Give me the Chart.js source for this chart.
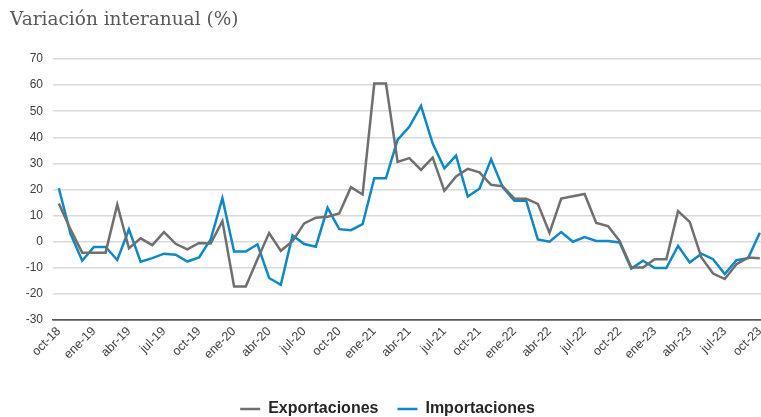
<!DOCTYPE html>
<html>
<head>
<meta charset="utf-8">
<script src="https://cdn.jsdelivr.net/npm/chart.js@4.4.1/dist/chart.umd.min.js"></script>
<style>
  html, body { margin: 0; padding: 0; background: #fff; overflow: hidden; }
  #wrap { position: absolute; left: 0; top: 0; width: 775px; height: 417px; }
  #title {
    position: absolute; left: 10px; top: 8px;
    font-family: 'DejaVu Serif', serif; font-size: 18.5px; color: #595959;
    white-space: nowrap;
  }
</style>
</head>
<body>
<div id="wrap"><canvas id="chart"></canvas></div>
<div id="title">Variación interanual (%)</div>
<script>
// months oct-18 .. oct-23
const months = [
  'oct-18','nov-18','dic-18','ene-19','feb-19','mar-19','abr-19','may-19','jun-19','jul-19','ago-19','sep-19',
  'oct-19','nov-19','dic-19','ene-20','feb-20','mar-20','abr-20','may-20','jun-20','jul-20','ago-20','sep-20',
  'oct-20','nov-20','dic-20','ene-21','feb-21','mar-21','abr-21','may-21','jun-21','jul-21','ago-21','sep-21',
  'oct-21','nov-21','dic-21','ene-22','feb-22','mar-22','abr-22','may-22','jun-22','jul-22','ago-22','sep-22',
  'oct-22','nov-22','dic-22','ene-23','feb-23','mar-23','abr-23','may-23','jun-23','jul-23','ago-23','sep-23',
  'oct-23'
];

const exportaciones = [
  14.6, 4.7, -4.2, -4.2, -4.2, 14.2, -2.5, 1.3, -1.3, 3.7, -0.8, -2.9,
  -0.5, -0.7, 7.9, -17.2, -17.2, -6.7, 3.3, -3.5, 0.2, 7.0, 9.2, 9.6,
  10.8, 20.9, 18.1, 60.6, 60.6, 30.6, 32.0, 27.5, 32.2, 19.5, 25.0, 27.9,
  26.6, 21.8, 21.2, 16.5, 16.5, 14.5, 3.4, 16.5, 17.4, 18.3, 7.2, 6.0,
  0.3, -9.9, -9.9, -6.7, -6.7, 11.7, 7.6, -6.0, -12.2, -14.3, -8.6, -6.1,
  -6.3
];

const importaciones = [
  20.5, 3.0, -7.3, -2.0, -2.0, -7.0, 4.7, -7.7, -6.3, -4.6, -5.0, -7.6,
  -6.0, 0.9, 16.7, -3.8, -3.8, -1.0, -13.9, -16.5, 2.4, -0.9, -1.9, 13.0,
  4.8, 4.4, 6.7, 24.3, 24.3, 39.1, 44.0, 52.0, 37.6, 28.1, 33.0, 17.3,
  20.3, 31.6, 20.8, 15.7, 15.7, 0.9, 0.0, 3.7, 0.0, 1.8, 0.3, 0.3,
  -0.3, -10.3, -7.3, -10.1, -10.1, -1.6, -8.0, -4.6, -6.7, -12.4, -7.1, -6.3,
  3.4
];

const yMin = -30, yMax = 70, yStep = 10;

const toPoints = arr => arr.map((v, i) => ({ x: i, y: v }));

const ctx = document.getElementById('chart').getContext('2d');
new Chart(ctx, {
  type: 'line',
  data: {
    datasets: [
      {
        label: 'Exportaciones',
        data: toPoints(exportaciones),
        borderColor: '#6f6f6f',
        backgroundColor: '#6f6f6f',
        borderWidth: 2.5,
        pointRadius: 0,
        tension: 0,
      },
      {
        label: 'Importaciones',
        data: toPoints(importaciones),
        borderColor: '#0e88c6',
        backgroundColor: '#0e88c6',
        borderWidth: 2.5,
        pointRadius: 0,
        tension: 0,
      },
    ],
  },
  options: {
    responsive: true,
    maintainAspectRatio: false,
    animation: false,
    events: [],
    layout: { padding: { top: 59, left: 0, right: 0, bottom: -10 } },
    plugins: {
      tooltip: { enabled: false },
      legend: {
        position: 'bottom',
        labels: {
          usePointStyle: true,
          pointStyle: 'line',
          pointStyleWidth: 20,
          padding: 19,
          color: '#262626',
          font: { family: "'Liberation Sans', Arial, sans-serif", size: 16, weight: 'bold' },
        },
      },
    },
    scales: {
      x: {
        type: 'linear',
        min: -0.5,
        max: 61.3,
        grid: { display: false },
        border: { display: true, color: '#595959', width: 1.5 },
        ticks: {
          stepSize: 3,
          includeBounds: false,
          autoSkip: false,
          minRotation: 45,
          maxRotation: 45,
          padding: -4,
          color: '#404040',
          font: { family: "'Liberation Sans', Arial, sans-serif", size: 12.5 },
          callback: v => months[v] || '',
        },
        afterFit: s => { s.height = 62; },
      },
      y: {
        min: yMin,
        max: yMax,
        border: { display: false },
        grid: {
          drawTicks: false,
          lineWidth: 1.5,
          color: c => c.tick.value === yMin ? '#595959' : '#d9d9d9',
        },
        ticks: {
          stepSize: yStep,
          padding: 10,
          color: '#404040',
          font: { family: "'Liberation Sans', Arial, sans-serif", size: 12 },
        },
        afterFit: s => { s.width = 53; },
      },
    },
  },
});
</script>
</body>
</html>
